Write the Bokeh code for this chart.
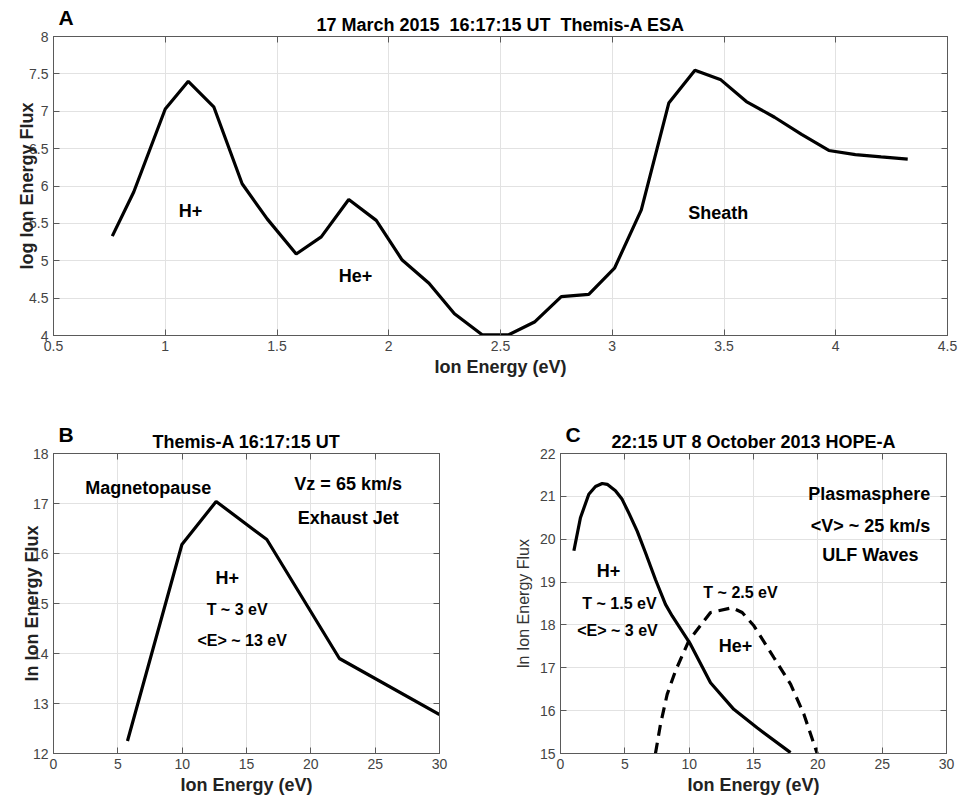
from bokeh.plotting import figure
from bokeh.models import Range1d, FixedTicker, LinearAxis, ColumnDataSource, Title
from bokeh.layouts import column, row
from bokeh.embed import file_html
from bokeh.resources import INLINE
from bokeh.core.properties import value

FONT = "Liberation Sans"

# ---------------- Panel A data ----------------
a_energy = [0.763, 0.859, 1.0, 1.103, 1.217, 1.344, 1.456, 1.586, 1.698, 1.821, 1.944,
            2.06, 2.18, 2.294, 2.418, 2.537, 2.652, 2.772, 2.895, 3.01, 3.13, 3.253,
            3.37, 3.486, 3.60, 3.726, 3.847, 3.969, 4.088, 4.203, 4.322]
a_flux = [5.33, 5.92, 7.03, 7.40, 7.06, 6.03, 5.56, 5.09, 5.32, 5.82, 5.54,
          5.01, 4.70, 4.29, 4.01, 4.01, 4.18, 4.52, 4.55, 4.90, 5.68, 7.11,
          7.55, 7.42, 7.13, 6.92, 6.69, 6.475, 6.42, 6.39, 6.36]
a_xticks = [0.5, 1, 1.5, 2, 2.5, 3, 3.5, 4, 4.5]
a_xlabels = ["0.5", "1", "1.5", "2", "2.5", "3", "3.5", "4", "4.5"]
a_yticks = [4, 4.5, 5, 5.5, 6, 6.5, 7, 7.5, 8]
a_ylabels = ["4", "4.5", "5", "5.5", "6", "6.5", "7", "7.5", "8"]
a_notes = ["H+", "He+", "Sheath"]
a_note_x = [1.113, 1.851, 3.474]
a_note_y = [5.672, 4.80, 5.645]

# ---------------- Panel B data ----------------
b_energy = [5.75, 9.98, 12.64, 16.58, 22.22, 30.0]
b_flux = [12.25, 16.18, 17.04, 16.28, 13.90, 12.78]
b_xticks = [0, 5, 10, 15, 20, 25, 30]
b_xlabels = ["0", "5", "10", "15", "20", "25", "30"]
b_yticks = [12, 13, 14, 15, 16, 17, 18]
b_ylabels = ["12", "13", "14", "15", "16", "17", "18"]
b_notes = ["Magnetopause", "Vz = 65 km/s", "Exhaust Jet", "H+"]
b_note_x = [7.36, 22.9, 22.9, 13.5]
b_note_y = [17.31, 17.39, 16.71, 15.51]
b_notes2 = ["T ~ 3 eV", "<E> ~ 13 eV"]
b_note2_x = [14.27, 14.66]
b_note2_y = [14.89, 14.27]

# ---------------- Panel C data ----------------
c_h_energy = [1.04, 1.55, 2.2, 2.72, 3.24, 3.63, 4.27, 4.79, 5.36, 5.96, 6.6, 7.38,
              8.16, 8.68, 10.1, 11.66, 13.47, 15.28, 17.88]
c_h_flux = [19.73, 20.50, 21.05, 21.23, 21.30, 21.28, 21.13, 20.93, 20.58, 20.19, 19.69, 19.06,
            18.48, 18.21, 17.55, 16.65, 16.03, 15.60, 15.02]
c_he_energy = [7.38, 7.77, 8.29, 8.94, 9.97, 11.14, 11.66, 13.34, 14.12, 15.03, 16.58,
               17.88, 18.91, 19.95]
c_he_flux = [15.0, 15.68, 16.38, 16.93, 17.63, 18.09, 18.29, 18.40, 18.29, 17.98, 17.24,
             16.62, 15.92, 15.0]
c_xticks = [0, 5, 10, 15, 20, 25, 30]
c_xlabels = ["0", "5", "10", "15", "20", "25", "30"]
c_yticks = [15, 16, 17, 18, 19, 20, 21, 22]
c_ylabels = ["15", "16", "17", "18", "19", "20", "21", "22"]
c_notes = ["Plasmasphere", "<V> ~ 25 km/s", "ULF Waves", "H+", "He+"]
c_note_x = [24.0, 24.09, 24.09, 3.73, 13.6]
c_note_y = [21.06, 20.31, 19.63, 19.26, 17.51]
c_notes2 = ["T ~ 1.5 eV", "<E> ~ 3 eV", "T ~ 2.5 eV"]
c_note2_x = [4.58, 4.43, 13.99]
c_note2_y = [18.49, 17.86, 18.75]

AXIS_GRAY = "#5a5a5a"


def style_axis(ax, ticks, labels, show_labels=True):
    ax.ticker = FixedTicker(ticks=ticks)
    if show_labels:
        ax.major_label_overrides = {t: l for t, l in zip(ticks, labels)}
        ax.major_label_standoff = 5
    else:
        ax.major_label_overrides = {t: "" for t in ticks}
        ax.major_label_standoff = 0
    ax.minor_tick_line_color = None
    ax.major_tick_in = 6
    ax.major_tick_out = 0
    ax.axis_line_color = AXIS_GRAY
    ax.major_tick_line_color = AXIS_GRAY
    ax.major_label_text_font = FONT
    ax.major_label_text_color = "#444444"
    ax.major_label_text_font_size = "14px"


def make_fig(xr, yr, fw, fh, bl, br, bt, bb, letter, title, xt, xl, yt, yl, xlabel, ylabel,
             ylabel_bold=True, ylabel_size="18px", ylabel_standoff=0):
    p = figure(x_range=Range1d(*xr), y_range=Range1d(*yr), frame_width=fw, frame_height=fh,
               min_border_left=bl, min_border_right=br, min_border_top=bt, min_border_bottom=bb,
               output_backend="svg", toolbar_location=None)
    p.outline_line_color = AXIS_GRAY
    p.background_fill_color = "white"
    p.border_fill_color = "white"
    style_axis(p.xaxis[0], xt, xl)
    style_axis(p.yaxis[0], yt, yl)
    p.xaxis.axis_label = xlabel
    p.xaxis.axis_label_text_font = FONT
    p.xaxis.axis_label_text_font_size = "18px"
    p.xaxis.axis_label_text_font_style = "bold"
    p.xaxis.axis_label_text_color = "#222222"
    p.xaxis.axis_label_standoff = 3
    p.yaxis.axis_label = ylabel
    p.yaxis.axis_label_text_font = FONT
    p.yaxis.axis_label_text_font_size = ylabel_size
    p.yaxis.axis_label_text_font_style = "bold" if ylabel_bold else "normal"
    p.yaxis.axis_label_text_color = "#222222" if ylabel_bold else "#333333"
    p.yaxis.axis_label_standoff = ylabel_standoff
    # top axis: inward ticks, carries the panel title as its label
    top = LinearAxis()
    style_axis(top, xt, xl, show_labels=False)
    top.axis_label = title
    top.axis_label_text_font = FONT
    top.axis_label_text_font_size = "18px"
    top.axis_label_text_font_style = "bold"
    top.axis_label_text_color = "black"
    top.axis_label_standoff = 2
    right = LinearAxis()
    style_axis(right, yt, yl, show_labels=False)
    p.add_layout(top, "above")
    p.add_layout(right, "right")
    # panel letter as the plot title (left aligned)
    p.title = Title(text=letter, align="left", offset=5, standoff=-34,
                    text_font=FONT, text_font_size="21px", text_font_style="bold",
                    text_color="black")
    p.xgrid.ticker = FixedTicker(ticks=xt)
    p.ygrid.ticker = FixedTicker(ticks=yt)
    p.xgrid.grid_line_color = "#e2e2e2"
    p.ygrid.grid_line_color = "#e2e2e2"
    return p


def add_notes(p, texts, xs, ys, size):
    src = ColumnDataSource(dict(x=xs, y=ys, t=texts))
    p.text(x="x", y="y", text="t", source=src, text_font=value(FONT), text_font_size=size,
           text_font_style="bold", text_align="center", text_baseline="middle", text_color="black")


# Panel A
pA = make_fig((0.5, 4.5), (4, 8), 894, 299, 53, 11, 36, 45, "A",
              "17 March 2015\u00a0 16:17:15 UT\u00a0 Themis-A ESA",
              a_xticks, a_xlabels, a_yticks, a_ylabels,
              "Ion Energy (eV)", "log Ion Energy Flux", ylabel_standoff=-11)
pA.line(a_energy, a_flux, line_color="black", line_width=3.2)
add_notes(pA, a_notes, a_note_x, a_note_y, "18px")

# Panel B
pB = make_fig((0, 30), (12, 18), 386, 300, 53, 41, 73, 44, "B",
              "Themis-A 16:17:15 UT",
              b_xticks, b_xlabels, b_yticks, b_ylabels,
              "Ion Energy (eV)", "ln Ion Energy Flux", ylabel_standoff=-12)
pB.line(b_energy, b_flux, line_color="black", line_width=3.2)
add_notes(pB, b_notes, b_note_x, b_note_y, "18px")
add_notes(pB, b_notes2, b_note2_x, b_note2_y, "16px")

# Panel C
pC = make_fig((0, 30), (15, 22), 386, 300, 80, 12, 73, 44, "C",
              "22:15 UT 8 October 2013 HOPE-A",
              c_xticks, c_xlabels, c_yticks, c_ylabels,
              "Ion Energy (eV)", "ln Ion Energy Flux", ylabel_bold=False,
              ylabel_size="16px", ylabel_standoff=5)
pC.line(c_h_energy, c_h_flux, line_color="black", line_width=3.2)
pC.line(c_he_energy, c_he_flux, line_color="black", line_width=3.2, line_dash="11 7")
add_notes(pC, c_notes, c_note_x, c_note_y, "18px")
add_notes(pC, c_notes2, c_note2_x, c_note2_y, "16px")

layout = column(pA, row(pB, pC))
open("out.html", "w").write(file_html(layout, INLINE))
